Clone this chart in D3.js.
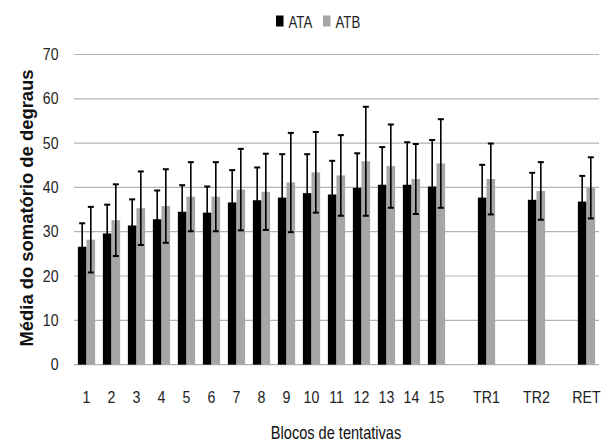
<!DOCTYPE html>
<html>
<head>
<meta charset="utf-8">
<script src="https://cdn.jsdelivr.net/npm/d3@7"></script>
<style>
  body { margin: 0; background: #fff; }
  svg { display: block; }
  text { font-family: "Liberation Sans", Arial, sans-serif; }
</style>
</head>
<body>
<svg width="606" height="441"></svg>
<script>
// blocks, with empty slots between the last three groups
var slots = ["1","2","3","4","5","6","7","8","9","10","11","12","13","14","15","s1","TR1","s2","TR2","s3","RET"];
var categories = ["1","2","3","4","5","6","7","8","9","10","11","12","13","14","15","TR1","TR2","RET"];
var seriesNames = ["ATA", "ATB"];
var ataMean = [26.6, 29.6, 31.4, 32.8, 34.5, 34.3, 36.6, 37.1, 37.7, 38.7, 38.4, 39.9, 40.6, 40.6, 40.2, 37.7, 37.2, 36.8];
var ataSd   = [5.3, 6.5, 5.9, 6.5, 6.0, 5.9, 7.3, 7.4, 9.8, 8.8, 7.6, 7.8, 8.5, 9.6, 10.5, 7.4, 6.1, 5.8];
var atbMean = [28.2, 32.6, 35.3, 35.8, 37.9, 37.9, 39.5, 39.0, 41.1, 43.4, 42.7, 45.9, 44.8, 41.9, 45.4, 41.9, 39.2, 39.9];
var atbSd   = [7.4, 8.1, 8.3, 8.3, 7.8, 7.8, 9.2, 8.6, 11.2, 9.1, 9.1, 12.3, 9.4, 7.9, 10.0, 8.0, 6.5, 6.9];
var yTicks = [0, 10, 20, 30, 40, 50, 60, 70];
var colors = ["#000000", "#a6a6a6"];

var svg = d3.select("svg");

var x = d3.scaleBand()
  .domain(slots)
  .range([74, 599])
  .paddingInner(0.31)
  .paddingOuter(0.155);

var xs = d3.scaleBand()
  .domain(seriesNames)
  .range([0, x.bandwidth()]);

var y = d3.scaleLinear()
  .domain([0, 70])
  .range([364.6, 54.5]);

// gridlines
svg.append("g")
  .selectAll("line")
  .data(yTicks)
  .enter()
  .append("line")
  .attr("x1", 74)
  .attr("x2", 599)
  .attr("y1", function(d){ return y(d); })
  .attr("y2", function(d){ return y(d); })
  .attr("stroke", "#b3b3b3")
  .attr("stroke-width", 1.2);

// y tick labels (squeezed like the original)
var yAxis = svg.append("g")
  .attr("transform", "translate(58.5,0)")
  .call(d3.axisLeft(y).tickValues(yTicks).tickSize(0).tickPadding(0));
yAxis.select(".domain").remove();
yAxis.selectAll("text")
  .style("font-family", "'Liberation Sans', Arial, sans-serif")
  .style("font-size", "16px")
  .attr("transform", "scale(0.88,1)")
  .attr("fill", "#222");

// x tick labels
var xAxis = svg.append("g")
  .attr("transform", "translate(0,391)")
  .call(d3.axisBottom(x).tickSize(0).tickPadding(0)
    .tickFormat(function(d){ return d.charAt(0) == "s" ? "" : d; }));
xAxis.select(".domain").remove();
xAxis.selectAll("text")
  .style("font-family", "'Liberation Sans', Arial, sans-serif")
  .style("font-size", "16.5px")
  .attr("transform", "scale(0.86,1)")
  .attr("fill", "#222");

var rows = categories.map(function(c, i){
  return [
    { cat: c, s: "ATA", mean: ataMean[i], sd: ataSd[i] },
    { cat: c, s: "ATB", mean: atbMean[i], sd: atbSd[i] }
  ];
});
var flat = d3.merge(rows);

var bars = svg.append("g");
bars.selectAll("rect")
  .data(flat)
  .enter()
  .append("rect")
  .attr("x", function(d){ return x(d.cat) + xs(d.s); })
  .attr("width", xs.bandwidth())
  .attr("y", function(d){ return y(d.mean); })
  .attr("height", function(d){ return y(0) - y(d.mean); })
  .attr("fill", function(d){ return colors[seriesNames.indexOf(d.s)]; });

// error bars
var err = svg.append("g").attr("stroke", "#000");
function cx(d){ return x(d.cat) + xs(d.s) + xs.bandwidth() / 2; }
err.selectAll("line.v")
  .data(flat)
  .enter()
  .append("line")
  .attr("class", "v")
  .attr("x1", cx).attr("x2", cx)
  .attr("y1", function(d){ return y(d.mean + d.sd); })
  .attr("y2", function(d){ return y(d.mean - d.sd); })
  .attr("stroke-width", 1.6);
err.selectAll("line.top")
  .data(flat)
  .enter()
  .append("line")
  .attr("class", "top")
  .attr("x1", function(d){ return cx(d) - 3; })
  .attr("x2", function(d){ return cx(d) + 3; })
  .attr("y1", function(d){ return y(d.mean + d.sd); })
  .attr("y2", function(d){ return y(d.mean + d.sd); })
  .attr("stroke-width", 2);
err.selectAll("line.bot")
  .data(flat)
  .enter()
  .append("line")
  .attr("class", "bot")
  .attr("x1", function(d){ return cx(d) - 3; })
  .attr("x2", function(d){ return cx(d) + 3; })
  .attr("y1", function(d){ return y(d.mean - d.sd); })
  .attr("y2", function(d){ return y(d.mean - d.sd); })
  .attr("stroke-width", 2);

// legend
var legendX = [276, 323];
var legend = svg.append("g");
legend.selectAll("rect")
  .data(seriesNames)
  .enter()
  .append("rect")
  .attr("x", function(d, i){ return legendX[i]; })
  .attr("y", 15.5)
  .attr("width", 7.5)
  .attr("height", 11)
  .attr("fill", function(d, i){ return colors[i]; });
legend.selectAll("text")
  .data(seriesNames)
  .enter()
  .append("text")
  .attr("transform", function(d, i){ return "translate(" + (legendX[i] + 12.5) + ",27.5) scale(0.78,1)"; })
  .style("font-size", "17px")
  .attr("fill", "#222")
  .text(function(d){ return d; });

// axis titles
svg.append("text")
  .attr("transform", "translate(336,438.5) scale(0.81,1)")
  .attr("text-anchor", "middle")
  .style("font-size", "18px")
  .attr("fill", "#111")
  .text("Blocos de tentativas");

svg.append("text")
  .attr("transform", "translate(33,208) rotate(-90)")
  .attr("text-anchor", "middle")
  .attr("textLength", 277)
  .attr("lengthAdjust", "spacingAndGlyphs")
  .style("font-weight", "bold")
  .style("font-size", "19px")
  .attr("fill", "#111")
  .text("Média do somatório de degraus");
</script>
</body>
</html>
